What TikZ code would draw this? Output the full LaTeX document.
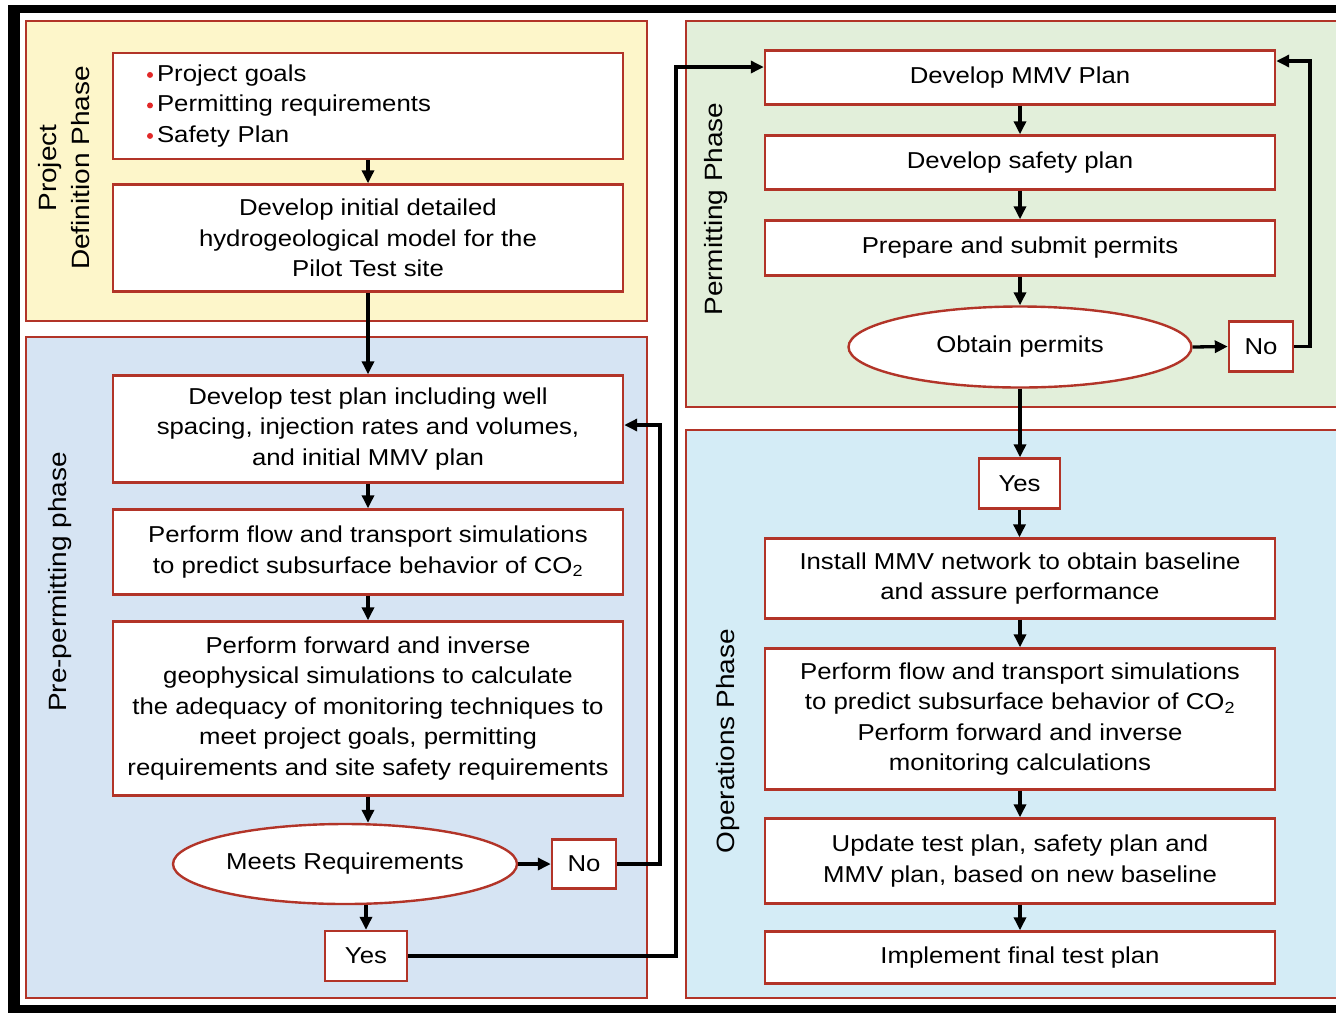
\documentclass[tikz,border=0pt]{standalone}
\usepackage{fontspec}
\setmainfont{Liberation Sans}[FakeStretch=1.12]
\usetikzlibrary{shapes.geometric,arrows.meta}
\definecolor{bred}{RGB}{178,52,40}
\definecolor{bulred}{RGB}{225,40,40}
\definecolor{pyellow}{RGB}{253,246,202}
\definecolor{pblue}{RGB}{214,228,243}
\definecolor{pgreen}{RGB}{226,239,218}
\definecolor{pcyan}{RGB}{212,236,246}
\tikzset{
  panel/.style={draw=bred,line width=1.8pt},
  box/.style={draw=bred,line width=2.4pt,fill=white,align=center,inner sep=0pt,
     minimum width=510pt,font=\fontsize{23}{30.5}\selectfont},
  smallbox/.style={draw=bred,line width=2.4pt,fill=white,align=center,inner sep=0pt,
     font=\fontsize{23}{30.5}\selectfont},
  oval/.style={ellipse,draw=bred,line width=2.4pt,fill=white,inner sep=0pt,
     font=\fontsize{23}{30.5}\selectfont},
  phase/.style={rotate=90,align=center,font=\fontsize{25}{33}\selectfont},
  arr/.style={line width=3.3pt,-{Triangle[length=13pt,width=12pt]}},
  link/.style={line width=3.3pt}
}
\newcommand{\rb}{\tikz[baseline=-6.5pt,x=1pt,y=1pt]\fill[bulred] (0,0) circle[radius=3pt];\hspace{4pt}}
\begin{document}
\begin{tikzpicture}[x=1pt,y=-1pt]
\useasboundingbox (0,0) rectangle (1336,1013);
% outer frame
\fill[black] (8,5) rectangle (20,1013);
\fill[black] (8,5) rectangle (1336,13);
\fill[black] (8,1005) rectangle (1336,1013);
% panels
\filldraw[panel,fill=pyellow] (26,21) rectangle (647,321);
\filldraw[panel,fill=pblue] (26,337) rectangle (647,998);
\filldraw[panel,fill=pgreen] (686,21) rectangle (1340,407);
\filldraw[panel,fill=pcyan] (686,430) rectangle (1340,998);
% phase labels
\node[phase] (lab1) at (64,168) {Project\\Definition Phase};
\node[phase] (lab2) at (60,582) {Pre-permitting phase};
\node[phase] (lab3) at (716,209) {Permitting Phase};
\node[phase] (lab4) at (728,741) {Operations Phase};
% left column
\node[box,minimum height=106pt,align=left,text width=442pt,inner xsep=34pt,inner ysep=0pt] (b1) at (368,106)
  {\rb Project goals\\\rb Permitting requirements\\\rb Safety Plan};
\node[box,minimum height=107pt] (b2) at (368,238)
  {Develop initial detailed\\hydrogeological model for the\\Pilot Test site};
\node[box,minimum height=107pt] (b3) at (368,429)
  {Develop test plan including well\\spacing, injection rates and volumes,\\and initial MMV plan};
\node[box,minimum height=85pt] (b4) at (368,552)
  {Perform flow and transport simulations\\to predict subsurface behavior of CO\textsubscript{2}};
\node[box,minimum height=174pt] (b5) at (368,708.5)
  {Perform forward and inverse\\geophysical simulations to calculate\\the adequacy of monitoring techniques to\\meet project goals, permitting\\requirements and site safety requirements};
\node[oval,minimum width=344pt,minimum height=80pt] (e1) at (345,864) {Meets Requirements};
\node[smallbox,minimum width=64pt,minimum height=49pt] (no1) at (584,864) {No};
\node[smallbox,minimum width=82pt,minimum height=50pt] (yes1) at (366,956) {Yes};
% right column
\node[box,minimum height=54pt] (r1) at (1020,77.5) {Develop MMV Plan};
\node[box,minimum height=54pt] (r2) at (1020,162.5) {Develop safety plan};
\node[box,minimum height=55pt] (r3) at (1020,248) {Prepare and submit permits};
\node[oval,minimum width=343pt,minimum height=81pt] (e2) at (1020,347) {Obtain permits};
\node[smallbox,minimum width=64pt,minimum height=50pt] (no2) at (1261,346.5) {No};
\node[smallbox,minimum width=81pt,minimum height=50pt] (yes2) at (1019.5,483.5) {Yes};
\node[box,minimum height=80pt] (r4) at (1020,578.5)
  {Install MMV network to obtain baseline\\and assure performance};
\node[box,minimum height=141pt] (r5) at (1020,719)
  {Perform flow and transport simulations\\to predict subsurface behavior of CO\textsubscript{2}\\Perform forward and inverse\\monitoring calculations};
\node[box,minimum height=85pt] (r6) at (1020,861)
  {Update test plan, safety plan and\\MMV plan, based on new baseline};
\node[box,minimum height=52pt] (r7) at (1020,957.5) {Implement final test plan};
% helper coordinates
\coordinate (c1) at (660,425);
\coordinate (c2) at (676,67);
\coordinate (c3) at (1310,61);
% left connectors
\draw[arr] (b1.south) -- (b2.north);
\draw[arr] (b2.south) -- (b3.north);
\draw[arr] (b3.south) -- (b4.north);
\draw[arr] (b4.south) -- (b5.north);
\draw[arr] (b5.south) -- (b5.south |- e1.north);
\draw[arr] (e1.east) -- (no1.west);
\draw[arr] (yes1.north |- e1.south) -- (yes1.north);
\draw[arr] (no1.east) -- (c1 |- no1.east) -- (c1) -- (c1 -| b3.east);
\draw[arr] (yes1.east) -- (c2 |- yes1.east) -- (c2) -- (c2 -| r1.west);
% right connectors
\draw[arr] (r1.south) -- (r2.north);
\draw[arr] (r2.south) -- (r3.north);
\draw[arr] (r3.south) -- (e2.north);
\draw[arr] (e2.east) -- (no2.west);
\draw[arr] (no2.east) -- (c3 |- no2.east) -- (c3) -- (c3 -| r1.east);
\draw[arr] (e2.south) -- (e2.south |- yes2.north);
\draw[arr] (yes2.south) -- (yes2.south |- r4.north);
\draw[arr] (r4.south) -- (r5.north);
\draw[arr] (r5.south) -- (r6.north);
\draw[arr] (r6.south) -- (r7.north);
\end{tikzpicture}
\end{document}
